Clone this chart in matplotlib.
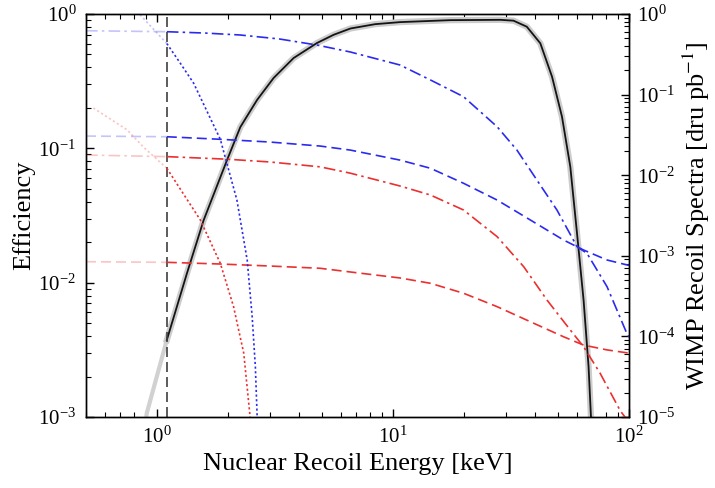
import numpy as np
import matplotlib
matplotlib.use("Agg")
import matplotlib.pyplot as plt

plt.rcParams['font.family'] = ['Liberation Serif', 'DejaVu Serif']
plt.rcParams['mathtext.fontset'] = 'stix'
plt.rcParams['font.size'] = 15
plt.rcParams['axes.linewidth'] = 1.0

# threshold energy [keV]
threshold = 1.1

# detector efficiency (left axis)
e_eff = [0.9, 0.905, 1.1, 1.34, 1.576, 1.98, 2.254, 2.653, 3.119, 3.79, 4.76, 5.6, 6.6,
         8.4, 10.7, 17.5, 28.5, 32.4, 36.9, 42.1, 47.2, 52.0, 56.4, 60.2, 64.2, 67.4, 69.0]
eff = [0.001, 0.00107, 0.00374, 0.0118, 0.0292, 0.0818, 0.144, 0.229, 0.334, 0.470, 0.608,
       0.70, 0.78, 0.84, 0.87, 0.90, 0.905, 0.892, 0.804, 0.605, 0.341, 0.172, 0.0729,
       0.0234, 0.00742, 0.00237, 0.0010]

# WIMP recoil spectra (right axis)
e_blue_dd = [0.5, 1.1, 1.6, 2.25, 3.3, 4.76, 6.59, 10.7, 14.4, 19.9, 27.6, 33.5, 40.7,
             49.5, 60.2, 66.4, 80.7, 97.9, 100]
blue_dd = [0.62, 0.603, 0.58, 0.549, 0.49, 0.412, 0.338, 0.233, 0.152, 0.0942, 0.0400,
           0.0205, 0.00872, 0.00370, 0.00130, 0.00107, 0.000414, 0.000109, 9.8e-5]

e_blue_da = [0.5, 1.1, 1.85, 3.0, 4.91, 6.59, 10.7, 14.4, 19.9, 27.6, 38.2, 52.8, 64.2,
             80.7, 100]
blue_da = [0.0306, 0.0300, 0.0279, 0.0258, 0.0230, 0.0205, 0.0154, 0.0122, 0.00794,
           0.00492, 0.00278, 0.00157, 0.00118, 0.000887, 0.00076]

e_red_dd = [0.5, 1.1, 1.98, 3.0, 4.91, 6.59, 10.7, 14.4, 19.9, 27.6, 35.8, 44.9, 56.4,
            64.2, 75.4, 91.9, 97.5]
red_dd = [0.0178, 0.0170, 0.0158, 0.0146, 0.0127, 0.0106, 0.00735, 0.00568, 0.00370,
          0.00173, 0.000732, 0.000283, 0.00012, 7.45e-5, 3.5e-5, 1.19e-5, 9.5e-6]

e_red_da = [0.5, 1.1, 1.85, 3.0, 4.91, 6.59, 10.7, 14.4, 19.9, 27.6, 38.2, 52.8, 64.2,
            80.7, 100]
red_da = [0.000845, 0.00083, 0.000791, 0.000747, 0.0007, 0.00063, 0.000531, 0.000456,
          0.000343, 0.000234, 0.000152, 9.9e-5, 7.8e-5, 6.8e-5, 6.2e-5]

e_blue_dot = [0.82, 0.85, 1.1, 1.255, 1.43, 1.854, 2.18, 2.41, 2.53, 2.61, 2.66]
blue_dot = [1.08, 0.97, 0.43, 0.245, 0.138, 0.0279, 0.00492, 0.000887, 0.000176, 4.2e-5, 9e-6]

e_red_dot = [0.537, 0.748, 0.875, 1.1, 1.526, 1.854, 2.11, 2.33, 2.48]
red_dot = [0.0682, 0.0364, 0.0224, 0.0122, 0.00278, 0.000807, 0.000234, 6.2e-5, 1.0e-5]

blue = '#2b2bf0'
red = '#ec2f2f'


def plot_split(ax, e, v, color, dashes):
    """faded below threshold, full colour above"""
    e = np.array(e)
    v = np.array(v)
    lo = e <= threshold
    hi = e >= threshold
    ax.plot(e[lo], v[lo], color=color, alpha=0.28, lw=1.2, dashes=dashes)
    ax.plot(e[hi], v[hi], color=color, lw=1.2, dashes=dashes)


fig = plt.figure(figsize=(7.15, 4.88), dpi=100)
ax = fig.add_axes([86 / 715, 1 - 417 / 488, 543 / 715, 403 / 488])
ax2 = ax.twinx()

# efficiency with its grey band
e_arr = np.array(e_eff)
eff_arr = np.array(eff)
lo = e_arr <= threshold
hi = e_arr >= threshold
ax.plot(e_arr[lo], eff_arr[lo], color='0.82', lw=3.0, solid_capstyle='butt')
ax.plot(e_arr[hi], eff_arr[hi], color='0.8', lw=4.5)
ax.plot(e_arr[hi], eff_arr[hi], color='0.08', lw=1.3)
ax.axvline(threshold, color='0.25', lw=1.2, dashes=(6, 3))

ax.set_xscale('log')
ax.set_yscale('log')
ax.set_xlim(0.5, 100)
ax.set_ylim(1e-3, 1)
ax.set_xlabel('Nuclear Recoil Energy [keV]', fontsize=19, labelpad=4)
ax.set_ylabel('Efficiency', fontsize=19, labelpad=2)

# spectra
plot_split(ax2, e_blue_dd, blue_dd, blue, (7, 2.5, 1.5, 2.5))
plot_split(ax2, e_blue_da, blue_da, blue, (6, 3))
plot_split(ax2, e_red_dd, red_dd, red, (7, 2.5, 1.5, 2.5))
plot_split(ax2, e_red_da, red_da, red, (6, 3))
plot_split(ax2, e_blue_dot, blue_dot, blue, (1.3, 1.5))
plot_split(ax2, e_red_dot, red_dot, red, (1.3, 1.5))

ax2.set_yscale('log')
ax2.set_ylim(1e-5, 1)
ax2.set_xlim(0.5, 100)
ax2.set_ylabel(r'WIMP Recoil Spectra [dru pb$^{-1}$]', fontsize=19, labelpad=4)

ax.tick_params(which='both', direction='in', top=True, right=False, pad=7)
ax.tick_params(which='major', length=6, width=1)
ax.tick_params(which='minor', length=3.5, width=0.8)
ax2.tick_params(which='both', direction='in', pad=6)
ax2.tick_params(which='major', length=6, width=1)
ax2.tick_params(which='minor', length=3.5, width=0.8)

fig.savefig('out.png', dpi=100)
